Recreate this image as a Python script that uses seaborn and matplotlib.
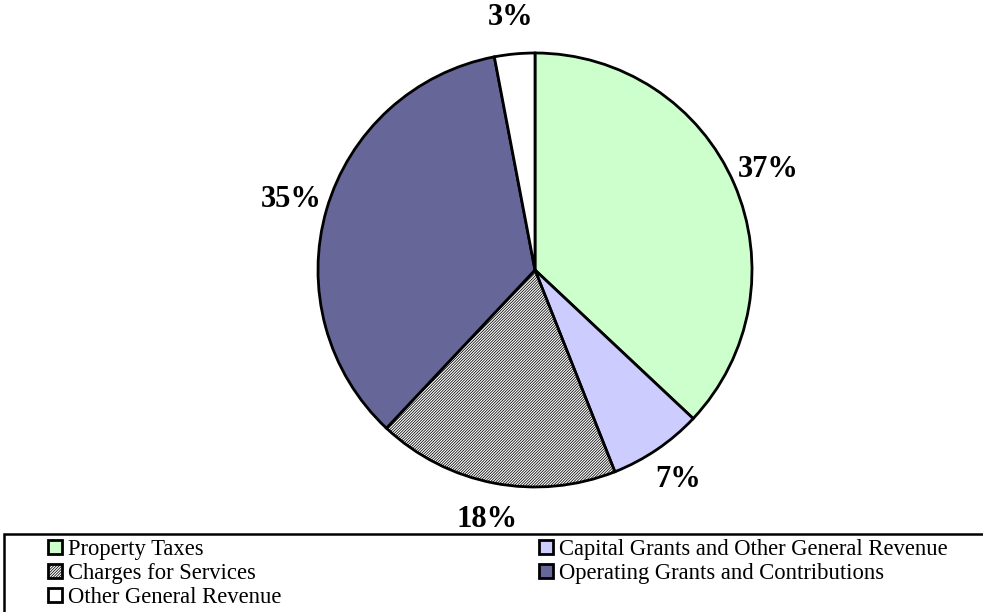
import matplotlib
matplotlib.use("Agg")
import matplotlib.pyplot as plt
from matplotlib.patches import Rectangle
import seaborn as sns

categories = [
    "Property Taxes",
    "Capital Grants and Other General Revenue",
    "Charges for Services",
    "Operating Grants and Contributions",
    "Other General Revenue",
]
shares = [37, 7, 18, 35, 3]
colors = ["#CCFFCC", "#CCCCFF", "#FFFFFF", "#666699", "#FFFFFF"]
hatches = [None, None, "////////////", None, None]

sns.set_style("white")
plt.rcParams["font.family"] = ["Liberation Serif", "DejaVu Serif"]
plt.rcParams["text.color"] = "black"
plt.rcParams["hatch.linewidth"] = 0.55
plt.rcParams["hatch.color"] = "black"

W, H = 983, 612
fig = plt.figure(figsize=(W / 100, H / 100), dpi=100)

# Pie centred at (535, 270) px with a radius of about 217 px
cx, cy, r = 535, 270, 217
lim = 1.3
side = 2 * lim * r
ax = fig.add_axes([(cx - side / 2) / W, (H - cy - side / 2) / H, side / W, side / H])

wedges, texts, autotexts = ax.pie(
    shares,
    colors=colors,
    startangle=90,
    counterclock=False,
    autopct=lambda p: f"{p:.0f}%",
    pctdistance=1.17,
    wedgeprops=dict(edgecolor="black", linewidth=2.0),
    textprops=dict(fontsize=22, fontweight="bold", color="black"),
)
for w, h in zip(wedges, hatches):
    if h:
        w.set_hatch(h)
for t in autotexts:
    t.set_clip_on(False)

ax.set_xlim(-lim, lim)
ax.set_ylim(-lim, lim)
ax.set_aspect("equal")
ax.axis("off")

# Legend box along the bottom of the figure
fig.add_artist(Rectangle((4 / W, -0.1), 1.2, (H - 534) / H + 0.1,
                         transform=fig.transFigure, fill=False,
                         edgecolor="black", linewidth=1.8))

order = [0, 2, 4, 1, 3]
leg = fig.legend(
    [wedges[i] for i in order],
    [categories[i] for i in order],
    ncol=2,
    loc="upper left",
    bbox_to_anchor=(48 / W, 1 - 539 / H),
    frameon=False,
    fontsize=16.3,
    handlelength=0.62,
    handleheight=0.62,
    handletextpad=0.25,
    labelspacing=0.13,
    columnspacing=11.4,
    borderpad=0,
    borderaxespad=0,
)
for t in leg.get_texts():
    t.set_color("black")

fig.savefig("out.png", dpi=100)
